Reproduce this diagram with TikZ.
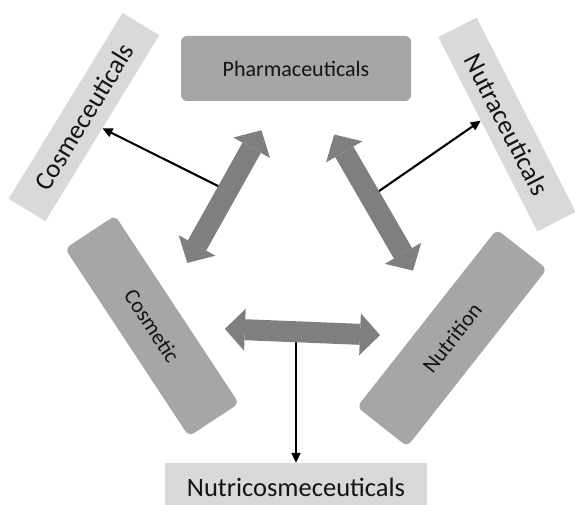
\documentclass[tikz,border=0pt]{standalone}
\usepackage{fontspec}
\setmainfont{Carlito}
\usetikzlibrary{arrows.meta,calc}
\definecolor{boxdark}{RGB}{166,166,166}
\definecolor{boxlight}{RGB}{217,217,217}
\definecolor{arrowgray}{RGB}{127,127,127}
\definecolor{inktext}{RGB}{20,20,20}

\begin{document}
\begin{tikzpicture}[
  x=1pt, y=1pt,
  every node/.style={text=inktext, inner sep=0pt},
  mainbox/.style={fill=boxdark, rounded corners=6pt, align=center,
               font=\fontsize{22}{26}\selectfont},
  sidebox/.style={fill=boxlight, minimum width=218pt, minimum height=43pt,
               align=center, font=\fontsize{26.5}{30}\selectfont},
  bigarrow/.style={draw=arrowgray, line width=21pt,
               {Triangle[length=20pt,width=42pt,line width=0pt]}-{Triangle[length=20pt,width=42pt,line width=0pt]}},
  thinarrow/.style={draw=black, line width=2.1pt, -{Triangle[length=10pt,width=9pt]}}
]
\useasboundingbox (0,0) rectangle (575,504);

\node[mainbox, minimum width=230pt, minimum height=65pt] (pharma) at (296,435.5)
  {Pharmaceuticals};
\node[mainbox, minimum width=225pt, minimum height=60pt, rotate=-56.6] (cosmetic) at (152,178)
  {Cosmetic};
\node[mainbox, minimum width=226pt, minimum height=64pt, rotate=51.8] (nutrition) at (452,166)
  {Nutrition};

\node[sidebox, rotate=58.5] (cosmeceut) at (84,387) {Cosmeceuticals};
\node[sidebox, rotate=-63] (nutraceut) at (507,379.5) {Nutraceuticals};
\node[sidebox, minimum width=262pt, minimum height=48pt] (nutricos) at (296,17)
  {Nutricosmeceuticals};

\path (pharma.center) -- (cosmetic.center)
  coordinate[pos=0.24] (pc1) coordinate[pos=0.475] (pcmid) coordinate[pos=0.755] (pc2);
\path (pharma.center) -- (nutrition.center)
  coordinate[pos=0.245] (pn1) coordinate[pos=0.477] (pnmid) coordinate[pos=0.75] (pn2);
\path (cosmetic.center) -- (nutrition.center)
  coordinate[pos=0.243] (cn1) coordinate[pos=0.48] (cnmid) coordinate[pos=0.76] (cn2);

\draw[thinarrow] (pcmid) -- (cosmeceut.south);
\draw[thinarrow] (pnmid) -- ($(nutraceut.south west)!0.43!(nutraceut.south east)$);
\draw[thinarrow] (cnmid) -- (cnmid |- nutricos.north);

\draw[bigarrow] (pc1) -- (pc2);
\draw[bigarrow] (pn1) -- (pn2);
\draw[bigarrow] (cn1) -- (cn2);

\end{tikzpicture}
\end{document}
